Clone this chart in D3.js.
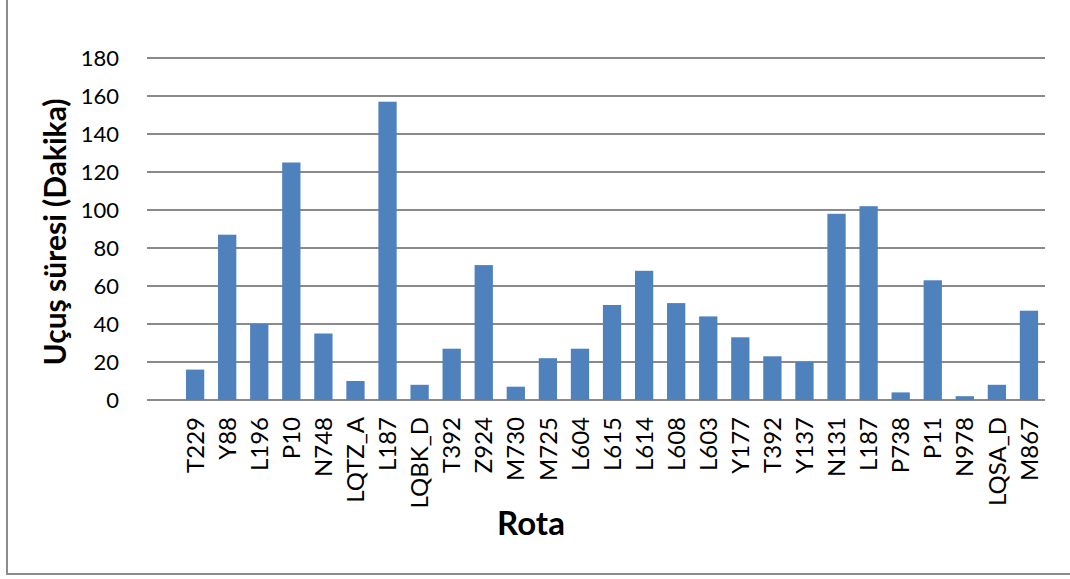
<!DOCTYPE html>
<html>
<head>
<meta charset="utf-8">
<script src="https://cdn.jsdelivr.net/npm/d3@7"></script>
<style>
  html, body { margin: 0; padding: 0; background: #ffffff; }
  svg { display: block; }
  text { font-family: Lato, "Open Sans", sans-serif; fill: #000; }
</style>
</head>
<body>
<svg id="chart" width="1070" height="579"></svg>
<script>
// Route names (the first category slot is left empty on the axis)
const categories = ["", "T229", "Y88", "L196", "P10", "N748", "LQTZ_A", "L187", "LQBK_D", "T392",
  "Z924", "M730", "M725", "L604", "L615", "L614", "L608", "L603", "Y177", "T392",
  "Y137", "N131", "L187", "P738", "P11", "N978", "LQSA_D", "M867"];
// Flight duration in minutes per route
const durations = [null, 16, 87, 40, 125, 35, 10, 157, 8, 27,
  71, 7, 22, 27, 50, 68, 51, 44, 33, 23,
  20, 98, 102, 4, 63, 2, 8, 47];
const yTicks = [0, 20, 40, 60, 80, 100, 120, 140, 160, 180];
const yTitle = "Uçuş süresi (Dakika)";
const xTitle = "Rota";

const svg = d3.select("#chart");
const plot = { left: 147, right: 1045, top: 58, bottom: 400 };

// Outer frame of the chart area
svg.append("rect")
  .attr("x", 7).attr("y", -10)
  .attr("width", 1100).attr("height", 584)
  .attr("fill", "none").attr("stroke", "#8c8c8c").attr("stroke-width", 2);

const x = d3.scaleBand()
  .domain(categories.map((c, i) => i))
  .range([plot.left, plot.right])
  .paddingInner(0.43)
  .paddingOuter(0.215);

const y = d3.scaleLinear().domain([0, 180]).range([plot.bottom, plot.top]);

// Horizontal gridlines
svg.append("g")
  .selectAll("line")
  .data(yTicks)
  .join("line")
  .attr("x1", plot.left).attr("x2", plot.right)
  .attr("y1", d => Math.round(y(d))).attr("y2", d => Math.round(y(d)))
  .attr("stroke", "#8a8a8a").attr("stroke-width", 2);

// Y axis tick labels
const yAxis = d3.axisLeft(y).tickValues(yTicks).tickSize(0).tickPadding(0);
const gy = svg.append("g").attr("transform", "translate(119,0)").call(yAxis);
gy.select(".domain").remove();
gy.selectAll("text")
  .attr("font-size", 22)
  .attr("font-family", "Lato, sans-serif")
  .attr("fill", "#000")
  .attr("dy", "0.36em");

// Bars
const data = categories.map((c, i) => ({ i, name: c, value: durations[i] }))
  .filter(d => d.value !== null);
svg.append("g")
  .selectAll("rect")
  .data(data)
  .join("rect")
  .attr("x", d => x(d.i))
  .attr("width", x.bandwidth())
  .attr("y", d => y(d.value))
  .attr("height", d => y(0) - y(d.value))
  .attr("fill", "#4f81bd");

// X axis category labels, rotated
const xAxis = d3.axisBottom(x).tickFormat(i => categories[i]).tickSize(0).tickPadding(0);
const gx = svg.append("g").attr("transform", `translate(0,${plot.bottom})`).call(xAxis);
gx.select(".domain").remove();
gx.selectAll("text")
  .attr("font-size", 24)
  .attr("font-family", "Lato, sans-serif")
  .attr("fill", "#000")
  .attr("text-anchor", "end")
  .attr("transform", "rotate(-90)")
  .attr("x", -17)
  .attr("y", 0)
  .attr("dy", "0.36em");

// Axis titles
svg.append("text")
  .attr("transform", "translate(66,232) rotate(-90)")
  .attr("text-anchor", "middle")
  .attr("font-size", 30)
  .attr("font-weight", "bold")
  .text(yTitle);

svg.append("text")
  .attr("x", 531).attr("y", 535)
  .attr("text-anchor", "middle")
  .attr("font-size", 33)
  .attr("font-weight", "bold")
  .text(xTitle);
</script>
</body>
</html>
